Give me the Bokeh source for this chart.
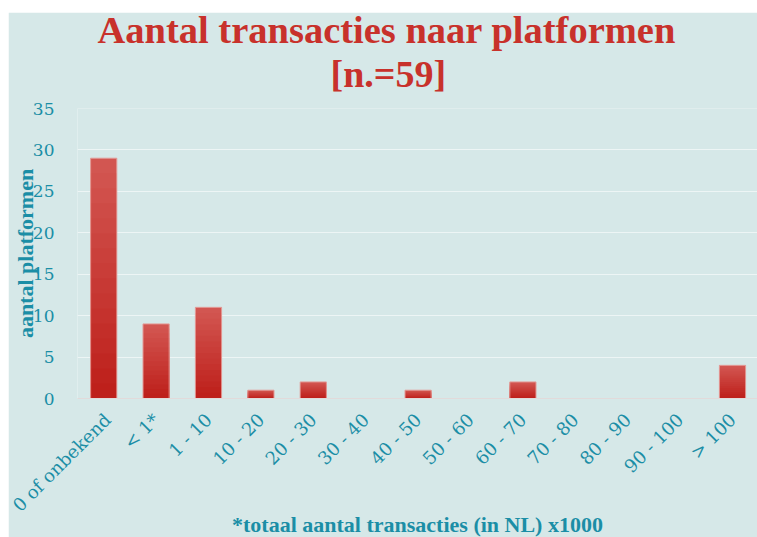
import math
from bokeh.plotting import figure
from bokeh.models import Range1d, FixedTicker, Title, Spacer
from bokeh.layouts import row, column
from bokeh.embed import file_html
from bokeh.resources import INLINE

# ---- data ----
categories = ["0 of onbekend", "< 1*", "1 - 10", "10 - 20", "20 - 30", "30 - 40",
              "40 - 50", "50 - 60", "60 - 70", "70 - 80", "80 - 90", "90 - 100", "> 100"]
counts = [29, 9, 11, 1, 2, 0, 1, 0, 2, 0, 0, 0, 4]
y_ticks = [0, 5, 10, 15, 20, 25, 30, 35]
title_line1 = "Aantal transacties naar platformen"
title_line2 = "[n.=59]"
x_title = "*totaal aantal transacties (in NL) x1000"
y_title = "aantal platformen"

# ---- style ----
BG = "#d6e8e8"
TEAL = "#1b8ea6"
RED = "#c8312b"
GRID = "#edf5f5"
TOP_C = (211, 88, 83)
BOT_C = (189, 30, 25)

xpos = list(range(len(categories)))

p = figure(frame_width=680, frame_height=290,
           x_range=Range1d(-0.5, 12.477), y_range=Range1d(0, 35),
           output_backend="svg", toolbar_location=None,
           min_border_left=69, min_border_right=0, min_border_top=96, min_border_bottom=130,
           background_fill_color=BG, border_fill_color=BG)
p.outline_line_color = None

# gradient bars: nested bars (tallest/lightest first), each shorter one darker
K = 16
gx, gt, gc = [], [], []
for k in range(K - 1, -1, -1):
    f = (k + 0.5) / K
    c = "#%02x%02x%02x" % tuple(int(round(BOT_C[j] + (TOP_C[j] - BOT_C[j]) * f)) for j in range(3))
    for xi, v in zip(xpos, counts):
        if v <= 0:
            continue
        gx.append(xi)
        gt.append(v * (k + 1) / K)
        gc.append(c)
p.vbar(x=gx, bottom=0, top=gt, width=0.5, fill_color=gc, line_color=None)
p.vbar(x=xpos, top=counts, width=0.5, fill_alpha=0, line_color="#e39a96", line_width=1)

# axes
p.xaxis.ticker = FixedTicker(ticks=xpos)
p.xaxis.major_label_overrides = {i: c for i, c in zip(xpos, categories)}
p.xaxis.major_label_orientation = math.pi / 4
p.xaxis.major_label_standoff = 12
p.xaxis.major_tick_line_color = None
p.xaxis.minor_tick_line_color = None
p.xaxis.axis_line_color = "#e2dada"
p.xaxis.major_label_text_font = "DejaVu Serif"
p.xaxis.major_label_text_font_size = "18px"
p.xaxis.major_label_text_color = TEAL
p.xaxis.axis_label = x_title
p.xaxis.axis_label_text_font = "Liberation Serif"
p.xaxis.axis_label_text_font_style = "bold"
p.xaxis.axis_label_text_font_size = "22px"
p.xaxis.axis_label_text_color = TEAL
p.xaxis.axis_label_standoff = -14

p.yaxis.ticker = FixedTicker(ticks=y_ticks)
p.yaxis.major_tick_line_color = None
p.yaxis.minor_tick_line_color = None
p.yaxis.axis_line_color = None
p.yaxis.major_label_standoff = 17
p.yaxis.major_label_text_font = "DejaVu Serif"
p.yaxis.major_label_text_font_size = "17px"
p.yaxis.major_label_text_color = TEAL
p.yaxis.axis_label = y_title
p.yaxis.axis_label_text_font = "Liberation Serif"
p.yaxis.axis_label_text_font_style = "bold"
p.yaxis.axis_label_text_font_size = "22px"
p.yaxis.axis_label_text_color = TEAL
p.yaxis.axis_label_standoff = -8

p.xgrid.grid_line_color = None
p.ygrid.grid_line_color = GRID
p.ygrid.grid_line_width = 1

# two-line title (first added sits closest to the plot)
p.add_layout(Title(text=title_line2, align="left", offset=253, standoff=28,
                   text_font="Liberation Serif", text_font_style="bold",
                   text_font_size="38px", text_color=RED), "above")
p.add_layout(Title(text=title_line1, align="left", offset=20, standoff=-29,
                   text_font="Liberation Serif", text_font_style="bold",
                   text_font_size="38.5px", text_color=RED), "above")

layout = row(Spacer(width=8), column(Spacer(height=12), p, spacing=0), spacing=0)
open("out.html", "w").write(file_html(layout, INLINE))
